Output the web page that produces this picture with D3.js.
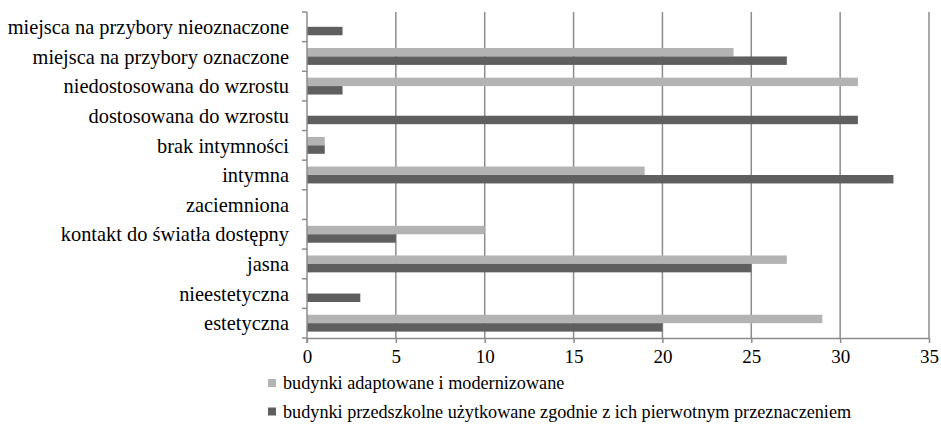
<!DOCTYPE html>
<html>
<head>
<meta charset="utf-8">
<script src="https://cdn.jsdelivr.net/npm/d3@7"></script>
<style>
  html, body { margin: 0; padding: 0; background: #fff; }
  svg { display: block; }
</style>
</head>
<body>
<svg id="chart" width="941" height="429"></svg>
<script>
const categories = [
  "estetyczna",
  "nieestetyczna",
  "jasna",
  "kontakt do światła dostępny",
  "zaciemniona",
  "intymna",
  "brak intymności",
  "dostosowana do wzrostu",
  "niedostosowana do wzrostu",
  "miejsca na przybory oznaczone",
  "miejsca na przybory nieoznaczone"
];
const seriesNames = [
  "budynki adaptowane i modernizowane",
  "budynki przedszkolne użytkowane zgodnie z ich pierwotnym przeznaczeniem"
];
const adaptedValues  = [29, 0, 27, 10, 0, 19, 1, 0, 31, 24, 0];
const originalValues = [20, 3, 25, 5, 0, 33, 1, 31, 2, 27, 2];
const xTicks = [0, 5, 10, 15, 20, 25, 30, 35];

(function () {
const FONT = "Liberation Serif";
const colors = ["#b3b3b3", "#5f5f5f"];
const svg = d3.select("#chart");
const pLeft = 307, pRight = 929, pTop = 12, pBottom = 338;

const x = d3.scaleLinear().domain([0, 35]).range([pLeft, pRight]);
const y = d3.scaleBand().domain(categories.slice().reverse()).range([pTop, pBottom])
  .paddingInner(0.43).paddingOuter(0.215);
const ySub = d3.scaleBand().domain([0, 1]).range([0, y.bandwidth()]);
const step = y.step();

// gridlines
svg.append("g").selectAll("line").data(xTicks.filter(d => d > 0)).join("line")
  .attr("x1", d => x(d)).attr("x2", d => x(d))
  .attr("y1", pTop).attr("y2", pBottom)
  .attr("stroke", "#8c8c8c").attr("stroke-width", 1.5);

// bars
const rows = categories.map((c, i) => ({c, v: [adaptedValues[i], originalValues[i]]}));
const g = svg.append("g");
rows.forEach(r => {
  r.v.forEach((v, s) => {
    if (v <= 0) return;
    g.append("rect")
      .attr("x", x(0))
      .attr("y", y(r.c) + ySub(s))
      .attr("width", x(v) - x(0))
      .attr("height", ySub.bandwidth())
      .attr("fill", colors[s]);
  });
});

// y axis line + ticks at band boundaries
const axisColor = "#8c8c8c";
svg.append("line").attr("x1", pLeft).attr("x2", pLeft).attr("y1", pTop).attr("y2", pBottom + 5)
  .attr("stroke", axisColor).attr("stroke-width", 1.5);
const boundaries = d3.range(categories.length + 1).map(i => pTop + i * step);
svg.append("g").selectAll("line").data(boundaries).join("line")
  .attr("x1", pLeft - 5).attr("x2", pLeft)
  .attr("y1", d => d).attr("y2", d => d)
  .attr("stroke", axisColor).attr("stroke-width", 1.5);

// x axis
const xAxis = d3.axisBottom(x).tickValues(xTicks).tickSize(5).tickSizeOuter(0).tickPadding(7);
const xg = svg.append("g").attr("transform", `translate(0,${pBottom})`).call(xAxis);
xg.attr("font-family", FONT).attr("font-size", 19);
xg.select(".domain").attr("stroke", axisColor).attr("stroke-width", 1.5);
xg.selectAll(".tick line").attr("stroke", axisColor).attr("stroke-width", 1.5);
xg.selectAll(".tick text").attr("font-size", 19).attr("font-family", FONT).attr("fill", "#000");

// category labels
svg.append("g").selectAll("text").data(categories).join("text")
  .attr("x", 289)
  .attr("y", d => y(d) + y.bandwidth() / 2)
  .attr("dy", "0.35em")
  .attr("text-anchor", "end")
  .attr("font-size", 20.4)
  .attr("font-family", FONT)
  .attr("fill", "#000")
  .text(d => d);

// legend
const leg = svg.append("g");
seriesNames.forEach((n, i) => {
  const yy = 389 + i * 28.5;
  leg.append("rect").attr("x", 268).attr("y", yy - 10).attr("width", 8).attr("height", 8).attr("fill", colors[i]);
  leg.append("text").attr("x", 283).attr("y", yy)
    .attr("font-size", 18.2).attr("font-family", FONT).attr("fill", "#000").text(n);
});
})();
</script>
</body>
</html>
